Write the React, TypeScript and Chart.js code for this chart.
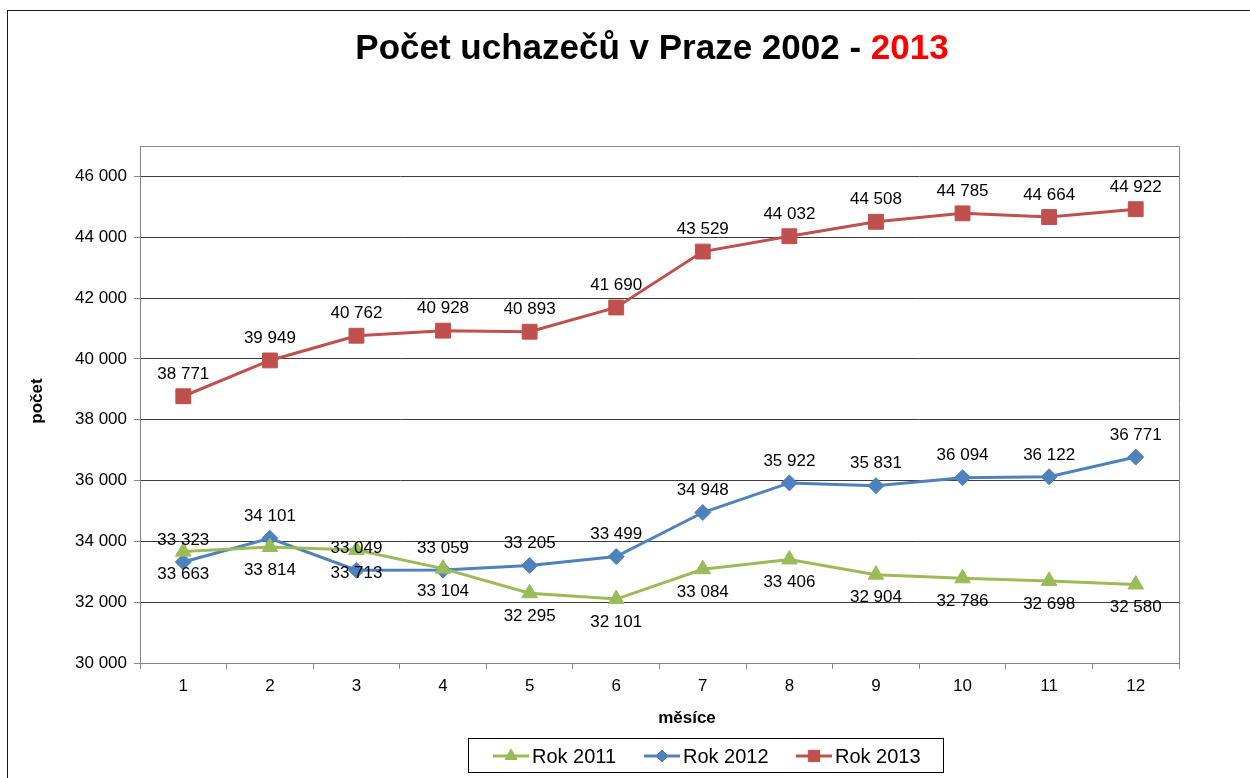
import React, { useEffect, useRef } from 'react';
import { Chart, registerables } from 'chart.js';

Chart.register(...registerables);

const months = ['1', '2', '3', '4', '5', '6', '7', '8', '9', '10', '11', '12'];
const rok2011 = [33663, 33814, 33713, 33104, 32295, 32101, 33084, 33406, 32904, 32786, 32698, 32580];
const rok2012 = [33323, 34101, 33049, 33059, 33205, 33499, 34948, 35922, 35831, 36094, 36122, 36771];
const rok2013 = [38771, 39949, 40762, 40928, 40893, 41690, 43529, 44032, 44508, 44785, 44664, 44922];
const yTickValues = [30000, 32000, 34000, 36000, 38000, 40000, 42000, 44000, 46000];
const seriesNames = ['Rok 2011', 'Rok 2012', 'Rok 2013'];
const seriesColors = ['#9BBB59', '#4F81BD', '#C0504D'];
const seriesMarkers = ['triangle', 'rectRot', 'rect'];
const labelSide = ['below', 'above', 'above'];
const titleMain = 'Počet uchazečů v Praze 2002 - ';
const titleYear = '2013';
const yAxisTitle = 'počet';
const xAxisTitle = 'měsíce';

const FONT = '"Liberation Sans", Arial, sans-serif';

const fmt = (n: number) => String(n).replace(/\B(?=(\d{3})+(?!\d))/g, ' ');

const markerRadius: Record<string, number> = { triangle: 9, rectRot: 8, rect: 10.5 };

function drawMarker(ctx: CanvasRenderingContext2D, style: string, x: number, y: number, r: number) {
  ctx.beginPath();
  if (style === 'triangle') {
    ctx.moveTo(x, y - r);
    ctx.lineTo(x + r * 0.866, y + r * 0.5);
    ctx.lineTo(x - r * 0.866, y + r * 0.5);
    ctx.closePath();
  } else if (style === 'rectRot') {
    ctx.moveTo(x, y - r);
    ctx.lineTo(x + r, y);
    ctx.lineTo(x, y + r);
    ctx.lineTo(x - r, y);
    ctx.closePath();
  } else {
    const s = r * Math.SQRT1_2;
    ctx.rect(x - s, y - s, 2 * s, 2 * s);
  }
  ctx.fill();
  ctx.stroke();
}

const decorPlugin = {
  id: 'decor',
  beforeDraw(chart: any) {
    const { ctx, width, height } = chart;
    ctx.save();
    ctx.fillStyle = '#fff';
    ctx.fillRect(0, 0, width, height);
    ctx.strokeStyle = '#1a1a1a';
    ctx.lineWidth = 1;
    ctx.strokeRect(7.5, 10.5, width + 20, height + 20);
    ctx.restore();
  },
  afterDraw(chart: any) {
    const { ctx, chartArea } = chart;
    ctx.save();
    // plot area top/right border
    ctx.strokeStyle = '#868686';
    ctx.lineWidth = 1;
    ctx.beginPath();
    ctx.moveTo(chartArea.left, chartArea.top + 0.5);
    ctx.lineTo(chartArea.right + 0.5, chartArea.top + 0.5);
    ctx.lineTo(chartArea.right + 0.5, chartArea.bottom);
    ctx.stroke();

    // title
    ctx.font = `bold 35px ${FONT}`;
    ctx.textBaseline = 'middle';
    ctx.textAlign = 'left';
    const w1 = ctx.measureText(titleMain).width;
    const w2 = ctx.measureText(titleYear).width;
    const tx = 652 - (w1 + w2) / 2;
    ctx.fillStyle = '#000';
    ctx.fillText(titleMain, tx, 49);
    ctx.fillStyle = '#FF0000';
    ctx.fillText(titleYear, tx + w1, 49);

    // axis titles
    ctx.fillStyle = '#000';
    ctx.font = `bold 17px ${FONT}`;
    ctx.textAlign = 'center';
    ctx.fillText(xAxisTitle, 687, 718);
    ctx.save();
    ctx.translate(37, 401);
    ctx.rotate(-Math.PI / 2);
    ctx.fillText(yAxisTitle, 0, 0);
    ctx.restore();

    // data labels
    ctx.font = `17px ${FONT}`;
    ctx.fillStyle = '#000';
    ctx.textAlign = 'center';
    ctx.textBaseline = 'middle';
    chart.data.datasets.forEach((ds: any, i: number) => {
      const meta = chart.getDatasetMeta(i);
      meta.data.forEach((pt: any, j: number) => {
        const v = ds.data[j];
        const dy = labelSide[i] === 'above' ? -22 : 23;
        ctx.fillText(fmt(v), pt.x, pt.y + dy);
      });
    });

    // legend
    ctx.strokeStyle = '#000';
    ctx.lineWidth = 1;
    ctx.strokeRect(468.5, 738.5, 475, 34);
    const lx = [493, 644, 796];
    const ly = 756;
    ctx.font = `20px ${FONT}`;
    ctx.textAlign = 'left';
    seriesNames.forEach((name, i) => {
      ctx.strokeStyle = seriesColors[i];
      ctx.lineWidth = 3;
      ctx.beginPath();
      ctx.moveTo(lx[i], ly);
      ctx.lineTo(lx[i] + 36, ly);
      ctx.stroke();
      const style = seriesMarkers[i];
      ctx.fillStyle = seriesColors[i];
      ctx.strokeStyle = seriesColors[i];
      ctx.lineWidth = 1;
      const r = style === 'triangle' ? 7 : style === 'rectRot' ? 6 : 8;
      drawMarker(ctx, style, lx[i] + 18, ly, r);
      ctx.fillStyle = '#000';
      ctx.fillText(name, lx[i] + 39, ly + 1);
    });
    ctx.restore();
  },
};

export default function App() {
  const ref = useRef<HTMLCanvasElement>(null);
  useEffect(() => {
    document.body.style.margin = '0';
    const canvas = ref.current!;
    const seriesData = [rok2011, rok2012, rok2013];
    const chart = new Chart(canvas, {
      type: 'line',
      data: {
        labels: months,
        datasets: seriesNames.map((name, i) => ({
          label: name,
          data: seriesData[i],
          borderColor: seriesColors[i],
          backgroundColor: seriesColors[i],
          borderWidth: 3,
          pointStyle: seriesMarkers[i] as any,
          pointRadius: markerRadius[seriesMarkers[i]],
          pointBorderWidth: 1,
          pointBackgroundColor: seriesColors[i],
          pointBorderColor: seriesColors[i],
          tension: 0,
        })),
      },
      options: {
        responsive: false,
        animation: false,
        devicePixelRatio: 1,
        layout: { padding: { top: 146, right: 71, bottom: 0, left: 0 } },
        plugins: {
          legend: { display: false },
          title: { display: false },
          tooltip: { enabled: false },
        },
        scales: {
          x: {
            type: 'category',
            offset: true,
            grid: {
              offset: true,
              drawOnChartArea: false,
              drawTicks: true,
              tickLength: 6,
              color: '#868686',
            },
            border: { color: '#868686', width: 1 },
            ticks: {
              color: '#000',
              font: { family: FONT, size: 17 },
              padding: 7,
              maxRotation: 0,
            },
            afterFit(scale: any) {
              scale.height = 115;
            },
          },
          y: {
            type: 'linear',
            min: 30000,
            max: 47000,
            afterBuildTicks(scale: any) {
              scale.ticks = yTickValues.map((v) => ({ value: v }));
            },
            grid: {
              color: '#3c3c3c',
              tickColor: '#868686',
              drawTicks: true,
              tickLength: 6,
              lineWidth: 1,
            },
            border: { color: '#868686', width: 1 },
            ticks: {
              color: '#000',
              font: { family: FONT, size: 17 },
              padding: 7,
              callback: (v: any) => fmt(Number(v)),
            },
            afterFit(scale: any) {
              scale.width = 140;
            },
          },
        },
      },
      plugins: [decorPlugin],
    });
    return () => chart.destroy();
  }, []);
  return (
    <div style={{ width: 1250, height: 778 }}>
      <canvas ref={ref} width={1250} height={778} style={{ display: 'block' }} />
    </div>
  );
}
